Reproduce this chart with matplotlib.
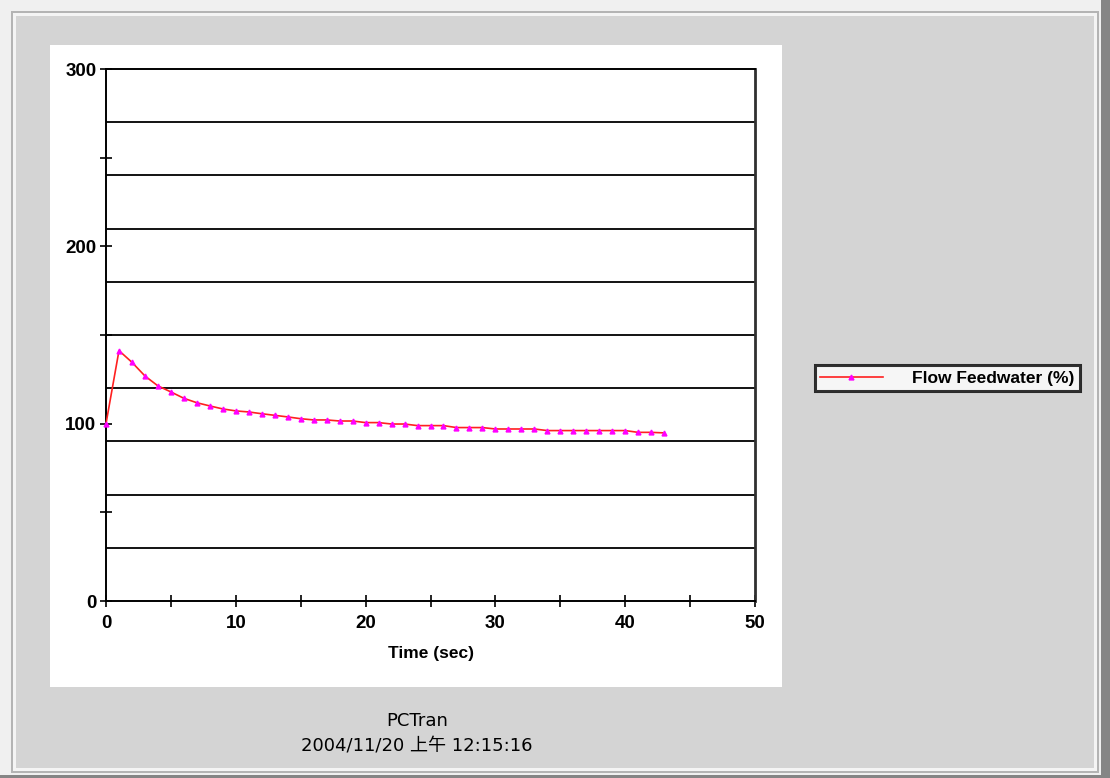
import matplotlib
matplotlib.use("Agg")
import matplotlib.pyplot as plt
from matplotlib.patches import Rectangle
from matplotlib.lines import Line2D

# ---- data ----
time_sec = [0, 1, 2, 3, 4, 5, 6, 7, 8, 9, 10, 11, 12, 13, 14, 15, 16, 17, 18, 19, 20, 21,
            22, 23, 24, 25, 26, 27, 28, 29, 30, 31, 32, 33, 34, 35, 36, 37, 38, 39, 40, 41, 42, 43]
flow_feedwater = [100.0, 141.2, 134.6, 126.9, 121.3, 117.9, 114.3, 111.8, 110.0, 108.3, 107.2,
                  106.6, 105.6, 104.7, 103.8, 102.8, 102.1, 102.1, 101.5, 101.5, 100.6, 100.6,
                  99.8, 99.8, 98.9, 98.9, 98.9, 97.8, 97.8, 97.8, 97.0, 97.0, 97.0, 97.0,
                  96.1, 96.1, 96.1, 96.1, 96.1, 96.1, 96.1, 95.1, 95.1, 94.8]
series_label = "Flow Feedwater (%)"
x_label = "Time (sec)"
y_major_ticks = [0, 100, 200, 300]
y_minor_ticks = [50, 150, 250]
x_major_ticks = [0, 10, 20, 30, 40, 50]
x_minor_ticks = [5, 15, 25, 35, 45]
grid_values = [30, 60, 90, 120, 150, 180, 210, 240, 270]
footer_title = "PCTran"
footer_time = "2004/11/20 上午 12:15:16"

W, H = 1110, 778
fig = plt.figure(figsize=(W / 100, H / 100), dpi=100)
fig.patch.set_facecolor("#d4d4d4")

def fx(px):
    return px / W

def fy(py):
    return 1 - py / H

def rect(x0, y0, x1, y1, **kw):
    fig.add_artist(Rectangle((fx(x0), fy(y1)), fx(x1) - fx(x0), fy(y0) - fy(y1),
                             transform=fig.transFigure, **kw))

# window frame
rect(0, 0, W, H, facecolor="#f0f0f0", edgecolor="none", zorder=-10)
rect(1101, 0, W, H, facecolor="#858585", edgecolor="none", zorder=-9)
rect(0, 775, W, H, facecolor="#858585", edgecolor="none", zorder=-9)
rect(11, 11, 1099, 773, facecolor="#b4b4b4", edgecolor="none", zorder=-8)
rect(13, 13, 1097, 771, facecolor="#f4f4f4", edgecolor="none", zorder=-7)
rect(16, 16, 1094, 768, facecolor="#d4d4d4", edgecolor="none", zorder=-6)
# white chart panel
rect(50, 45, 782, 687, facecolor="white", edgecolor="none", zorder=-5)

tick_font = ["Liberation Sans", "DejaVu Sans"]

ax = fig.add_axes([fx(106), fy(601), fx(755) - fx(106), fy(69) - fy(601)])
ax.set_facecolor("white")
ax.set_xlim(0, 50)
ax.set_ylim(0, 300)

for g in grid_values:
    ax.axhline(g, color="black", lw=1.3, zorder=1)

ax.plot(time_sec, flow_feedwater, color="#ff2020", lw=1.2, marker="^",
        markersize=3.5, markerfacecolor="#ff00ff", markeredgecolor="#ff00ff", zorder=3,
        clip_on=False)

ax.set_xticks(x_major_ticks)
ax.set_xticks(x_minor_ticks, minor=True)
ax.set_yticks(y_major_ticks)
ax.set_yticks(y_minor_ticks, minor=True)
ax.set_xticklabels([str(v) for v in x_major_ticks])
ax.set_yticklabels([str(v) for v in y_major_ticks])
ax.tick_params(axis="both", which="both", direction="inout", length=8, width=1.2, color="black")
ax.tick_params(axis="x", which="major", pad=6)
ax.tick_params(axis="y", which="major", pad=3)
for lab in ax.get_xticklabels() + ax.get_yticklabels():
    lab.set_fontfamily(tick_font)
    lab.set_fontweight("bold")
    lab.set_fontsize(13.5)

ax.set_xlabel(x_label, fontfamily=tick_font, fontweight="bold", fontsize=12.5, labelpad=10)

for s in ax.spines.values():
    s.set_color("black")
    s.set_linewidth(1.4)
ax.spines["right"].set_color("#303030")
ax.spines["right"].set_linewidth(2)

# legend
handle = Line2D([], [], color="#ff2020", lw=1.2, marker="^", markersize=3.5,
                markerfacecolor="#ff00ff", markeredgecolor="#ff00ff", markevery=[1])
handle.set_xdata([0, 0.5, 1])
leg = fig.legend([handle], [series_label], loc="center left",
                 bbox_to_anchor=(fx(815), fy(378)), frameon=True, fancybox=False,
                 handlelength=3.6, handletextpad=1.7, borderpad=0.3, borderaxespad=0,
                 prop={"family": tick_font, "weight": "bold", "size": 12.5})
leg.get_frame().set_edgecolor("black")
leg.get_frame().set_linewidth(2.2)
leg.get_frame().set_facecolor("white")

footer_font = ["DejaVu Sans", "Noto Sans CJK TC"]
fig.text(fx(417), fy(721), footer_title, ha="center", va="center",
         fontfamily=footer_font, fontsize=13)
fig.text(fx(417), fy(745), footer_time, ha="center", va="center",
         fontfamily=footer_font, fontsize=13)

fig.savefig("out.png", dpi=100, facecolor=fig.get_facecolor())
